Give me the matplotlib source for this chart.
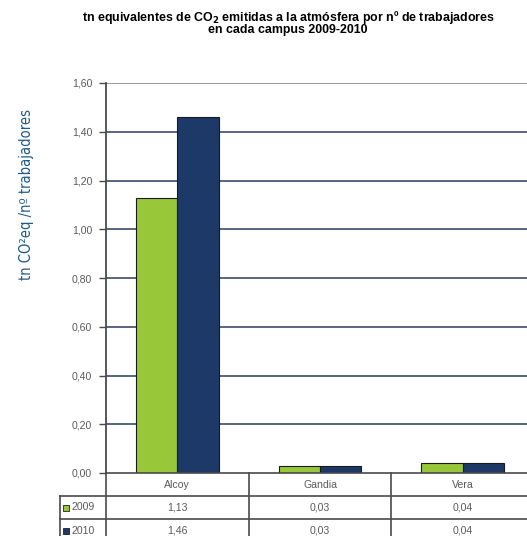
import numpy as np
import matplotlib.pyplot as plt

campus = ["Alcoy", "Gandia", "Vera"]
years = ["2009", "2010"]
v2009 = [1.13, 0.03, 0.04]
v2010 = [1.46, 0.03, 0.04]
yticks = [0.0, 0.2, 0.4, 0.6, 0.8, 1.0, 1.2, 1.4, 1.6]

green = "#98c83a"
navy = "#1d3968"
grey_txt = "#5a5a5a"
line_c = "#4a4a4a"

W, H = 527, 536
fig = plt.figure(figsize=(W / 100, H / 100), dpi=100)
fig.patch.set_facecolor("white")

def box(l, r, top, bot):
    return [l / W, (H - bot) / H, (r - l) / W, (bot - top) / H]

ax = fig.add_axes(box(106, 534, 83, 473))
x = np.arange(len(campus))
bw = 0.29
ax.bar(x - bw / 2, v2009, bw, color=green, edgecolor="#1a1a1a", linewidth=0.8, zorder=3)
ax.bar(x + bw / 2, v2010, bw, color=navy, edgecolor="#1a1a1a", linewidth=0.8, zorder=3)
ax.set_xlim(-0.5, 2.5)
ax.set_ylim(0, 1.6)
ax.set_yticks(yticks)
ax.set_yticklabels([f"{t:.2f}".replace(".", ",") for t in yticks],
                   fontsize=7.6, color=grey_txt, family="Liberation Sans")
ax.tick_params(axis="y", length=5, width=1, color=line_c, pad=5)
ax.set_xticks([])
for t in yticks[1:-1]:
    ax.axhline(t, color="#2c3b5c", lw=1.1, zorder=1)
ax.axhline(1.6, color="#9a8f8c", lw=1.3, zorder=1)
for s in ["top", "right", "bottom"]:
    ax.spines[s].set_visible(False)
ax.spines["left"].set_color(line_c)
ax.spines["left"].set_linewidth(1.3)

# data table under the bars
tb = fig.add_axes(box(60, 534, 473, 542))
tb.set_xlim(-0.5 - 46 / (428 / 3), 2.5)
tb.set_ylim(3, 0)
tb.axis("off")
lk = dict(color=line_c, lw=1.2, clip_on=False)
x0 = tb.get_xlim()[0]
tb.plot([-0.5, 2.5], [0, 0], **lk)
tb.plot([x0, 2.5], [1, 1], **lk)
tb.plot([x0, 2.5], [2, 2], **lk)
tb.plot([x0, x0], [1, 3], **lk)
for b in [-0.5, 0.5, 1.5]:
    tb.plot([b, b], [0, 3], **lk)
tf = dict(fontsize=7.6, color=grey_txt, family="Liberation Sans", ha="center", va="center")
for i, c in enumerate(campus):
    tb.text(i, 0.5, c, **tf)
    tb.text(i, 1.5, f"{v2009[i]:.2f}".replace(".", ","), **tf)
    tb.text(i, 2.5, f"{v2010[i]:.2f}".replace(".", ","), **tf)
for r, (yr, col) in enumerate(zip(years, [green, navy])):
    tb.scatter([x0 + 0.045], [1.5 + r], s=14, marker="s", color=col,
               edgecolor="#222222", linewidth=0.6, clip_on=False)
    tb.text(x0 + 0.08, 1.5 + r, yr, fontsize=7.6, color=grey_txt,
            family="Liberation Sans", ha="left", va="center")

fig.text(288 / W, 1 - 17 / H, "tn equivalentes de CO$_\\mathbf{2}$ emitidas a la atmósfera por nº de trabajadores",
         ha="center", va="center", fontsize=8.9, fontweight="bold", family="Liberation Sans")
fig.text(288 / W, 1 - 30 / H, "en cada campus 2009-2010",
         ha="center", va="center", fontsize=8.9, fontweight="bold", family="Liberation Sans")

fig.text(27 / W, 1 - 195 / H, "tn CO²eq /nº trabajadores", rotation=90,
         ha="center", va="center", fontsize=10.5, color="#1f5c88",
         family="DejaVu Sans", stretch="condensed")

fig.savefig("out.png", dpi=100, facecolor="white")
